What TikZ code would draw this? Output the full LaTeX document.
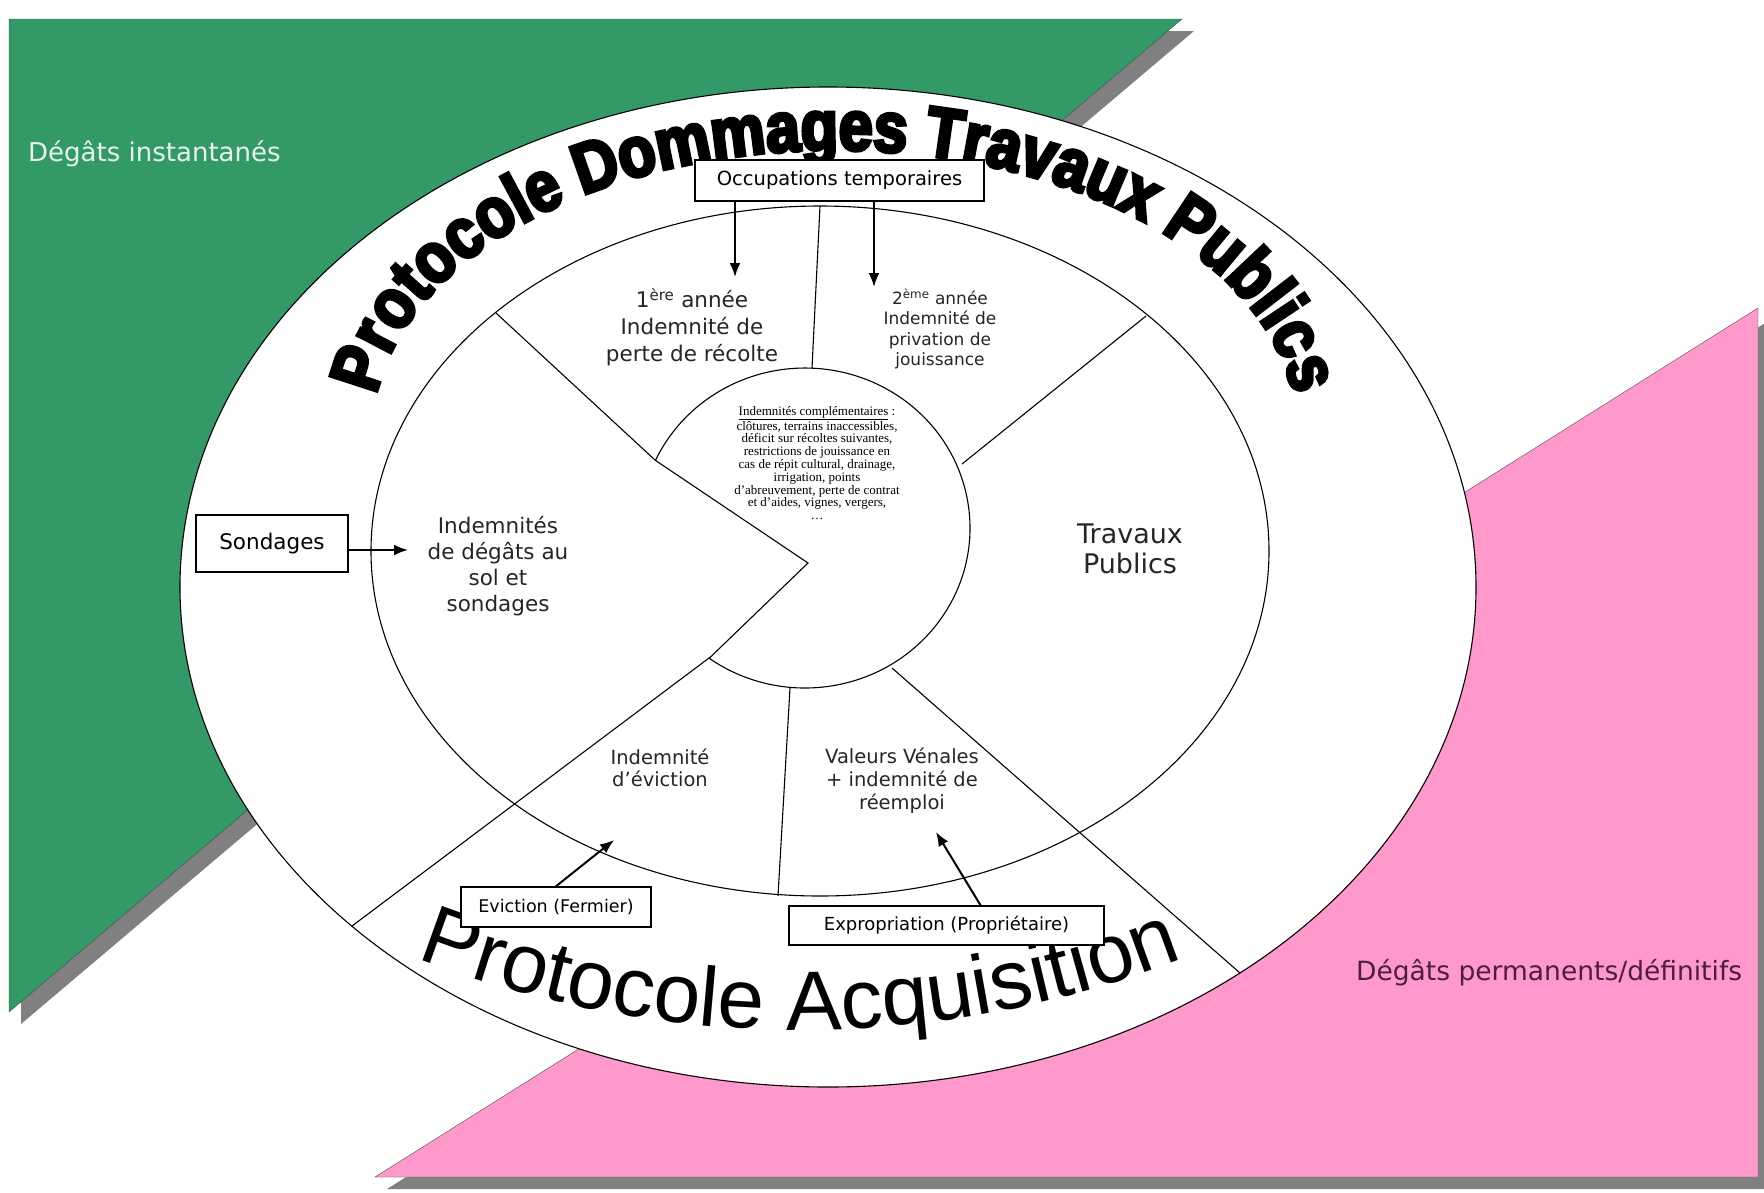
\documentclass[tikz,border=0pt]{standalone}
\usepackage{fontspec}
\usepackage{tikz}
\usetikzlibrary{arrows.meta}
\usetikzlibrary{decorations.text}

\newfontfamily\verd{DejaVu Sans}
\newfontfamily\tms{Liberation Serif}
\newfontfamily\arl{Liberation Sans}
\newfontfamily\arlblack{Liberation Sans}[FakeStretch=0.86, BoldFeatures={FakeBold=5}]

\definecolor{vert}{HTML}{339966}
\definecolor{rose}{HTML}{FF99CC}
\definecolor{ombre}{HTML}{808080}
\definecolor{prune}{HTML}{4D1E40}
\definecolor{pale}{HTML}{E6F5E6}

\newcommand{\titrefont}{\arlblack\bfseries\fontsize{71}{71}\selectfont}
\newcommand{\acqfont}{\arl\fontsize{84}{84}\selectfont}

\tikzset{
    boite/.style = {draw, fill=white, line width=1.5pt, inner sep=0pt},
    etiq/.style = {align=center, text=black!85, inner sep=0pt},
    fleche/.style = {-{Latex[length=14pt, width=11pt]}, line width=2pt},
    trait/.style = {line width=1.1pt}
}

\begin{document}
\begin{tikzpicture}[x=1pt, y=-1pt]
    \useasboundingbox (0,0) rectangle (1764,1192);

    % ombres et triangles
    \fill [ombre] (21,31) -- (1194,31) -- (21,1024) -- cycle;
    \fill [ombre] (387,1189) -- (1770,1189) -- (1770,320) -- cycle;
    \draw [fill=vert, draw=black!70] (9,19) -- (1182,19) -- (9,1012) -- cycle;
    \draw [fill=rose, draw=black!70] (375,1177) -- (1758,1177) -- (1758,308) -- cycle;

    \node [anchor=west, text=pale, inner sep=0pt, font=\verd\fontsize{26}{28}\selectfont] (dinst) at (28,154) {Dégâts instantanés};
    \node [anchor=west, text=prune, inner sep=0pt, font=\verd\fontsize{26.5}{28}\selectfont] (dperm) at (1356,973) {Dégâts permanents/définitifs};

    % la roue
    \draw [trait, fill=white] (828,587) ellipse [x radius=648, y radius=500];
    \draw [trait] (820,551) ellipse [x radius=449, y radius=345];
    \draw [trait] (805,528) ++(125.5:165 and 160) arc [start angle=125.5, end angle=-155, x radius=165, y radius=160] -- (808,563) -- cycle;

    \draw [trait] (655,460) -- (496,313);
    \draw [trait] (812,368) -- (820,206);
    \draw [trait] (962,464) -- (1146,316);
    \draw [trait] (892,668) -- (1240,973);
    \draw [trait] (790,688) -- (778,896);
    \draw [trait] (709,658) -- (352,926);

    % textes en arc
    \path [decorate, decoration={text along path, text align=center,
        text={|\titrefont|Protocole Dommages Travaux Publics}}]
        (835,430) ++(-180:462 and 280) arc [start angle=-180, end angle=0, x radius=462, y radius=280];
    \path [decorate, decoration={text along path, text align=center,
        text={|\acqfont|Protocole Acquisition}}]
        (800,-30) ++(114:1060) arc [start angle=114, end angle=66, radius=1060];

    % secteurs
    \node [etiq, font=\verd\fontsize{21.5}{26.7}\selectfont] (an1) at (692,327) {1\textsuperscript{ère} année\\Indemnité de\\perte de récolte};
    \node [etiq, font=\verd\fontsize{17}{20.3}\selectfont] (an2) at (940,329) {2\textsuperscript{ème} année\\Indemnité de\\privation de\\jouissance};
    \node [etiq, text=black, font=\tms\fontsize{13}{12.8}\selectfont] (compl) at (817,463) {\underline{Indemnités complémentaires} :\\clôtures, terrains inaccessibles,\\déficit sur récoltes suivantes,\\restrictions de jouissance en\\cas de répit cultural, drainage,\\irrigation, points\\d’abreuvement, perte de contrat\\et d’aides, vignes, vergers,\\…};
    \node [etiq, font=\verd\fontsize{21.5}{25.8}\selectfont] (sol) at (498,566) {Indemnités\\de dégâts au\\sol et\\sondages};
    \node [etiq, font=\verd\fontsize{27}{29.5}\selectfont] (tp) at (1130,549) {Travaux\\Publics};
    \node [etiq, font=\verd\fontsize{19.5}{22.5}\selectfont] (evi) at (660,768) {Indemnité\\d’éviction};
    \node [etiq, font=\verd\fontsize{19.5}{23}\selectfont] (vv) at (902,781) {Valeurs Vénales\\+ indemnité de\\réemploi};

    % boites
    \node [boite, minimum width=289pt, minimum height=41pt, font=\verd\fontsize{19.5}{20}\selectfont] (occ) at (839.5,180.5) {Occupations temporaires};
    \node [boite, minimum width=152pt, minimum height=57pt, font=\verd\fontsize{21.5}{24}\selectfont] (sond) at (272,543.5) {Sondages};
    \node [boite, minimum width=190pt, minimum height=40pt, font=\verd\fontsize{17.5}{20}\selectfont] (evic) at (556,907) {Eviction (Fermier)};
    \node [boite, minimum width=315pt, minimum height=39pt, font=\verd\fontsize{18}{20}\selectfont] (expr) at (946.5,925.5) {Expropriation (Propriétaire)};

    % fleches
    \coordinate (occA) at (735,277);
    \coordinate (occB) at (874,287);
    \draw [fleche] (occ.south -| occA) -- (occA);
    \draw [fleche] (occ.south -| occB) -- (occB);

    \coordinate (sondA) at (408,550);
    \draw [fleche] (sond.east |- sondA) -- (sondA);

    \coordinate (evicA) at (614,840);
    \draw [fleche] (evic.north) -- (evicA);

    \coordinate (exprS) at (981,906);
    \coordinate (exprA) at (936,832);
    \draw [fleche] (exprS) -- (exprA);
\end{tikzpicture}
\end{document}
